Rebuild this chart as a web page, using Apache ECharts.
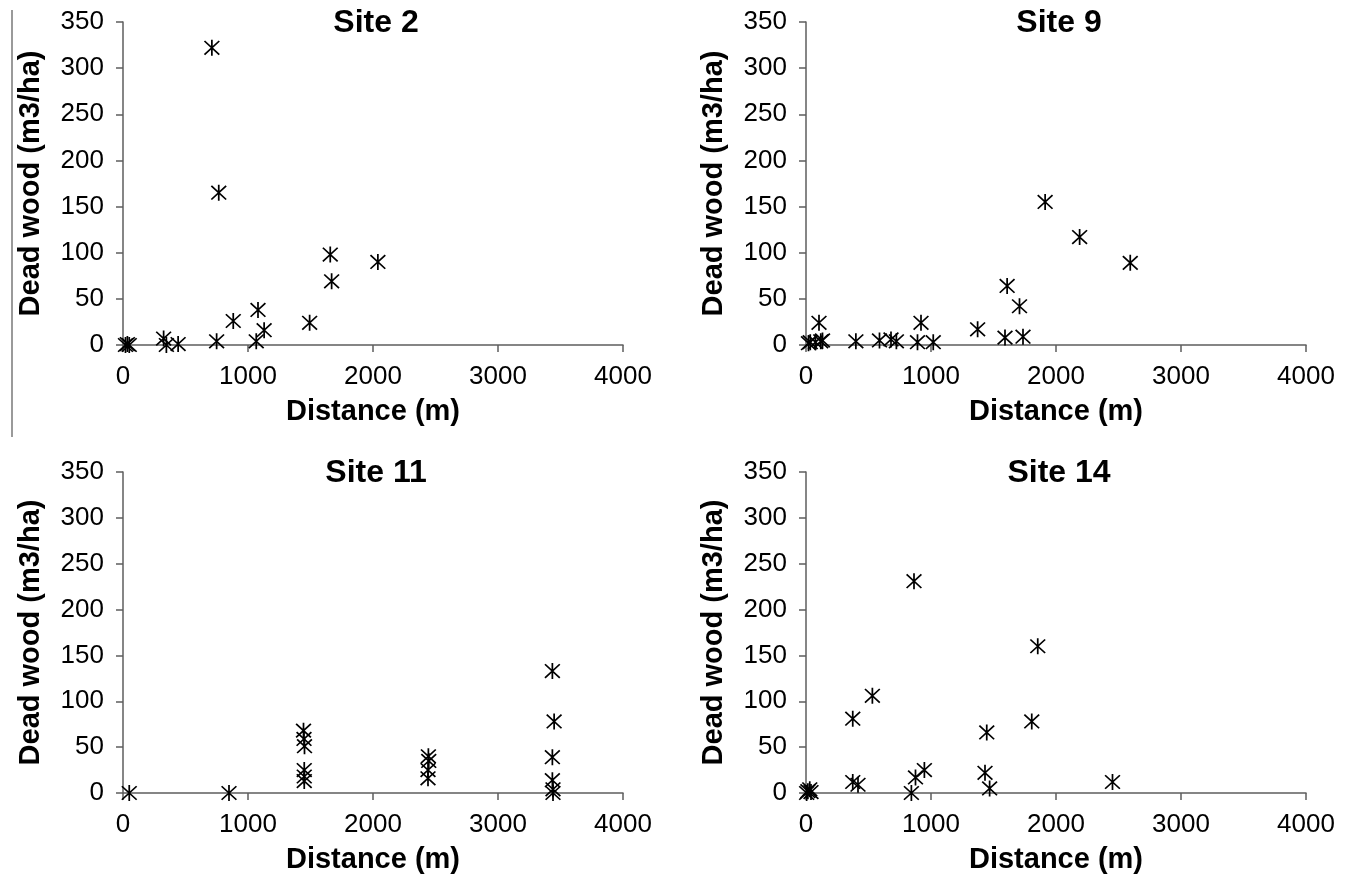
<!DOCTYPE html>
<html>
<head>
<meta charset="utf-8">
<script src="https://cdn.jsdelivr.net/npm/echarts@6/dist/echarts.min.js"></script>
<style>
html,body{margin:0;padding:0;background:#fff;}
#chart{width:1349px;height:875px;}
</style>
</head>
<body>
<div id="chart"></div>
<script>
// ---- data (distance m, dead wood m3/ha) ----
const siteTitles = ['Site 2', 'Site 9', 'Site 11', 'Site 14'];
const xTicks = [0, 1000, 2000, 3000, 4000];
const yTicks = [0, 50, 100, 150, 200, 250, 300, 350];

const site2Dist = [20, 35, 50, 325, 347, 441, 711, 766, 749, 882, 1066, 1080, 1129, 1493, 1658, 1669, 2039];
const site2Wood = [0, 1, 0, 7, 0, 1, 322, 165, 4, 26, 4, 38, 16, 24, 98, 69, 90];

const site9Dist = [20, 34, 76, 104, 118, 132, 399, 588, 680, 723, 892, 920, 1018, 1373, 1592, 1609, 1708, 1736, 1913, 2189, 2594];
const site9Wood = [2, 3, 3, 24, 4, 5, 4, 5, 6, 4, 3, 24, 3, 17, 8, 64, 42, 9, 155, 117, 89];

const site11Dist = [50, 848, 1444, 1448, 1452, 1450, 1450, 1450, 2443, 2446, 2440, 2440, 3435, 3449, 3435, 3435, 3440, 3440];
const site11Wood = [0, 0, 68, 59, 51, 25, 18, 13, 40, 35, 25, 16, 133, 78, 39, 14, 4, 0];

const site14Dist = [5, 15, 30, 40, 374, 374, 416, 531, 843, 864, 876, 947, 1432, 1446, 1469, 1806, 1854, 2452];
const site14Wood = [0, 2, 4, 1, 81, 12, 9, 106, 0, 231, 17, 25, 22, 66, 5, 78, 160, 12];

const sitesDist = [site2Dist, site9Dist, site11Dist, site14Dist];
const sitesWood = [site2Wood, site9Wood, site11Wood, site14Wood];

// ---- layout ----
const grids = [
  {left: 123, top: 22, width: 500, height: 323},
  {left: 806, top: 22, width: 500, height: 323},
  {left: 123, top: 472, width: 500, height: 321},
  {left: 806, top: 472, width: 500, height: 321}
];

const FONT = '"Liberation Sans", Arial, sans-serif';
const axisGray = '#5e5e5e';
const asterisk = 'path://M9 0L11 0L11 20L9 20Z M0.8 2.2L2.2 0.8L19.2 17.8L17.8 19.2Z M17.8 0.8L19.2 2.2L2.2 19.2L0.8 17.8Z';

const option = {
  animation: false,
  backgroundColor: '#fff',
  title: grids.map((g, i) => ({
    text: siteTitles[i],
    left: g.left + g.width / 2 - 2,
    top: g.top - 20,
    textAlign: 'center',
    textStyle: {fontFamily: FONT, fontWeight: 'bold', fontSize: 32, color: '#000'}
  })),
  grid: grids,
  xAxis: grids.map((g, i) => ({
    type: 'value', gridIndex: i, min: 0, max: 4000, interval: 1000,
    name: 'Distance (m)', nameLocation: 'middle', nameGap: 52,
    nameTextStyle: {fontFamily: FONT, fontWeight: 'bold', fontSize: 29, color: '#000'},
    axisLine: {show: true, lineStyle: {color: axisGray, width: 1.5}},
    axisTick: {show: true, inside: false, length: 7, lineStyle: {color: axisGray, width: 1.5}},
    axisLabel: {fontFamily: FONT, fontSize: 26, color: '#000', margin: 19, formatter: v => String(v)},
    splitLine: {show: false}
  })),
  yAxis: grids.map((g, i) => ({
    type: 'value', gridIndex: i, min: 0, max: 350, interval: 50,
    name: 'Dead wood (m3/ha)', nameLocation: 'middle', nameGap: 78, nameRotate: 90,
    nameTextStyle: {fontFamily: FONT, fontWeight: 'bold', fontSize: 29, color: '#000'},
    axisLine: {show: true, lineStyle: {color: axisGray, width: 1.5}},
    axisTick: {show: true, inside: false, length: 7, lineStyle: {color: axisGray, width: 1.5}},
    axisLabel: {fontFamily: FONT, fontSize: 26, color: '#000', margin: 19, formatter: v => String(v)},
    splitLine: {show: false}
  })),
  series: sitesDist.map((dist, i) => ({
    type: 'scatter',
    name: siteTitles[i],
    xAxisIndex: i, yAxisIndex: i,
    symbol: asterisk,
    symbolSize: 16,
    itemStyle: {color: '#000', opacity: 1},
    data: dist.map((d, k) => [d, sitesWood[i][k]])
  })),
  graphic: [{
    type: 'line',
    shape: {x1: 12, y1: 10, x2: 12, y2: 437},
    style: {stroke: '#9a9a9a', lineWidth: 2}
  }]
};

const chart = echarts.init(document.getElementById('chart'), null, {renderer: 'canvas'});
chart.setOption(option);
</script>
</body>
</html>
